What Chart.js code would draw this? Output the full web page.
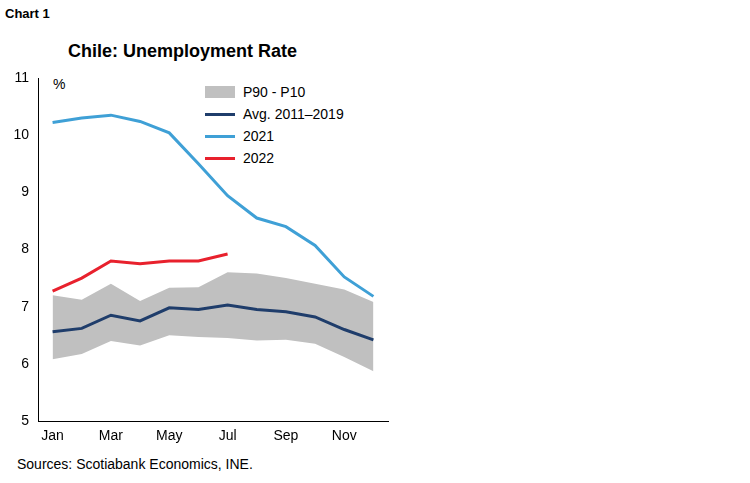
<!DOCTYPE html><html><head><meta charset="utf-8">
<script src="https://cdn.jsdelivr.net/npm/chart.js@4"></script>
<style>
body{margin:0;width:750px;height:483px;background:#fff;font-family:"Liberation Sans",Arial,sans-serif;position:relative;overflow:hidden}
.t{position:absolute;white-space:nowrap;color:#000}
.lg{position:absolute;left:205px;font-size:14px;display:flex;align-items:center}
.sw{width:30px;margin-right:8px}
</style></head><body>
<div class="t" style="left:5px;top:6px;font-size:13px;font-weight:bold">Chart 1</div>
<div class="t" style="left:68px;top:41px;font-size:18px;font-weight:bold">Chile: Unemployment Rate</div>
<div class="t" style="left:53px;top:76px;font-size:14px">%</div>
<div class="lg" style="top:84px"><div class="sw" style="height:12px;background:#c0c0c0"></div>P90 - P10</div>
<div class="lg" style="top:106px"><div class="sw" style="height:3px;background:#1f3d6b"></div>Avg. 2011–2019</div>
<div class="lg" style="top:128px"><div class="sw" style="height:3px;background:#3fa0d6"></div>2021</div>
<div class="lg" style="top:150px"><div class="sw" style="height:3px;background:#e8212d"></div>2022</div>
<div class="t" style="left:17px;top:456px;font-size:14px">Sources: Scotiabank Economics, INE.</div>
<canvas id="c" style="position:absolute;left:0;top:0"></canvas>
<script>
const months=["Jan","Feb","Mar","Apr","May","Jun","Jul","Aug","Sep","Oct","Nov","Dec"];
const p90=[7.2,7.12,7.4,7.1,7.33,7.34,7.6,7.58,7.5,7.4,7.3,7.08];
const p10=[6.08,6.17,6.4,6.32,6.5,6.47,6.45,6.41,6.42,6.35,6.12,5.87];
const avg=[6.56,6.62,6.85,6.75,6.98,6.95,7.03,6.95,6.91,6.82,6.6,6.42];
const y2021=[10.22,10.3,10.35,10.24,10.04,9.5,8.94,8.55,8.4,8.07,7.52,7.18];
const y2022=[7.27,7.5,7.8,7.75,7.8,7.8,7.92];
const cv=document.getElementById('c');cv.width=750;cv.height=483;
new Chart(cv,{type:'line',data:{labels:months,datasets:[
{data:y2022,borderColor:'#e8212d',borderWidth:3,pointRadius:0,fill:false},
{data:y2021,borderColor:'#3fa0d6',borderWidth:3,pointRadius:0,fill:false},
{data:avg,borderColor:'#1f3d6b',borderWidth:3,pointRadius:0,fill:false},
{data:p90,borderWidth:0,pointRadius:0,backgroundColor:'#c0c0c0',fill:'+1'},
{data:p10,borderWidth:0,pointRadius:0,backgroundColor:'#c0c0c0',fill:false}
]},options:{responsive:false,animation:false,events:[],
layout:{padding:{left:8,right:362,top:78,bottom:0}},
plugins:{legend:{display:false},tooltip:{enabled:false}},
scales:{
x:{offset:true,grid:{display:false,drawTicks:true,tickLength:5,color:'#000'},border:{color:'#000'},
 afterFit(s){s.height=62;},
 ticks:{autoSkip:false,maxRotation:0,color:'#000',font:{size:14,family:'Liberation Sans'},padding:2,
 callback(v,i){return i%2===0?months[i]:'';}}},
y:{min:5,max:11,grid:{display:false,drawTicks:true,tickLength:5,color:'#000'},border:{color:'#000'},
 afterFit(s){s.width=30;},
 ticks:{stepSize:1,color:'#000',font:{size:14,family:'Liberation Sans'},padding:4}}
}}});
</script></body></html>
